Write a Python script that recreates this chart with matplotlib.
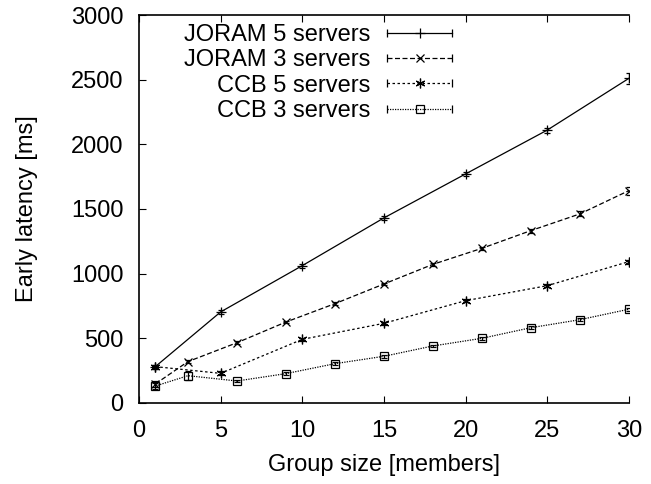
import numpy as np
import matplotlib
matplotlib.use("Agg")
import matplotlib.pyplot as plt
from matplotlib.lines import Line2D
from matplotlib.legend_handler import HandlerLine2D

plt.rcParams['font.family'] = ['Liberation Sans', 'DejaVu Sans']

# JORAM 5 servers
j5_x = [1, 5, 10, 15, 20, 25, 30]
j5_y = [281, 704, 1062, 1431, 1771, 2110, 2510]
j5_e = [15, 15, 15, 15, 15, 20, 45]

# JORAM 3 servers
j3_x = [1, 3, 6, 9, 12, 15, 18, 21, 24, 27, 30]
j3_y = [147, 320, 466, 626, 768, 920, 1072, 1196, 1333, 1462, 1642]
j3_e = [20, 10, 10, 10, 10, 10, 10, 10, 15, 20, 30]

# CCB 5 servers
c5_x = [1, 5, 10, 15, 20, 25, 30]
c5_y = [281, 229, 492, 616, 791, 907, 1093]
c5_e = [15, 15, 10, 10, 10, 10, 15]

# CCB 3 servers
c3_x = [1, 3, 6, 9, 12, 15, 18, 21, 24, 27, 30]
c3_y = [131, 211, 170, 227, 304, 361, 441, 500, 582, 644, 725]
c3_e = [20, 35, 10, 10, 10, 10, 10, 10, 10, 10, 10]

labels = ['JORAM 5 servers', 'JORAM 3 servers', 'CCB 5 servers', 'CCB 3 servers']
styles = [('+', '-', 7), ('x', (0, (4, 2)), 6), ((6, 2, 0), (0, (2, 2)), 7), ('s', (0, (1, 1)), 5.5)]

fig = plt.figure(figsize=(6.51, 4.84), dpi=100)
ax = fig.add_axes([0.2135, 0.1674, 0.7525, 0.8016])

series = [(j5_x, j5_y, j5_e), (j3_x, j3_y, j3_e), (c5_x, c5_y, c5_e), (c3_x, c3_y, c3_e)]
handles = []
hmap = {}
for (xs, ys, es), (mk, ls, ms), lab in zip(series, styles, labels):
    mfc = 'none' if mk == 's' else 'black'
    ax.errorbar(xs, ys, yerr=es, color='black', marker=mk, ls=ls, lw=0.9, mfc=mfc,
                markersize=ms, markeredgewidth=0.9, capsize=2.5, elinewidth=0.9, capthick=0.9)
    # gnuplot style key sample: line with end caps and marker in the middle
    main = Line2D([], [], color='black', marker=mk, ls=ls, lw=0.9, mfc=mfc,
                  markersize=ms, markeredgewidth=0.9)
    caps = Line2D([], [], color='black', marker='|', ls='none', markersize=6, markeredgewidth=0.9)
    hmap[caps] = HandlerLine2D(numpoints=2, marker_pad=0)
    handles.append((main, caps))

ax.set_xlim(0, 30)
ax.set_ylim(0, 3000)
ax.set_xticks(np.arange(0, 31, 5))
ax.set_yticks(np.arange(0, 3001, 500))
ax.tick_params(direction='in', labelsize=17, length=5, width=0.8, top=True, right=False)
ax.tick_params(axis='x', pad=12)
ax.tick_params(axis='y', pad=11)
ax.spines['right'].set_visible(False)
for s in ['left', 'bottom', 'top']:
    ax.spines[s].set_linewidth(1.2)

ax.set_xlabel('Group size [members]', fontsize=17, labelpad=9)
ax.set_ylabel('Early latency [ms]', fontsize=17, labelpad=24)

leg = ax.legend(handles, labels, handler_map=hmap, loc='upper right',
                bbox_to_anchor=(452 / 651, 1 - 24 / 484), bbox_transform=fig.transFigure,
                markerfirst=False, frameon=False, fontsize=17, handlelength=2.75,
                handletextpad=0.7, labelspacing=0.14, borderpad=0, borderaxespad=0)
for t in leg.get_texts():
    t.set_ha('right')
leg._legend_box.align = 'right'

fig.savefig('out.png', dpi=100)
